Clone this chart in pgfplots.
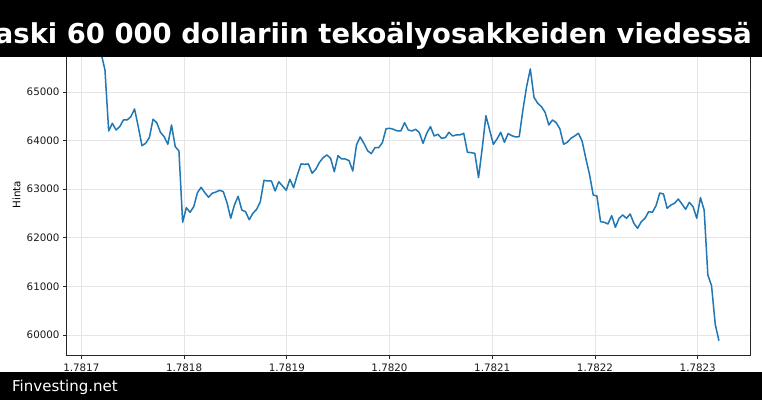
\documentclass[border=0pt]{standalone}
\usepackage{fontspec}
\setmainfont{DejaVu Sans}
\usepackage{pgfplots}
\pgfplotsset{compat=1.18}
\definecolor{mplblue}{HTML}{1F77B4}
\pgfplotstableread{
h price
-1 65890
0 65780
1 65453
2 64198
3 64356
4 64218
5 64287
6 64424
7 64424
8 64492
9 64650
10 64287
11 63895
12 63944
13 64060
14 64438
15 64368
16 64170
17 64080
18 63924
19 64321
20 63875
21 63786
22 62319
23 62620
24 62525
25 62640
26 62928
27 63039
28 62928
29 62835
30 62917
31 62942
32 62977
33 62949
34 62722
35 62401
36 62675
37 62854
38 62572
39 62537
40 62373
41 62504
42 62586
43 62743
44 63183
45 63169
46 63169
47 62963
48 63154
49 63066
50 62977
51 63204
52 63031
53 63292
54 63519
55 63512
56 63519
57 63327
58 63410
59 63553
60 63649
61 63704
62 63636
63 63360
64 63690
65 63621
66 63621
67 63587
68 63374
69 63909
70 64074
71 63944
72 63792
73 63731
74 63854
75 63854
76 63957
77 64245
78 64252
79 64232
80 64198
81 64198
82 64368
83 64218
84 64198
85 64232
86 64163
87 63944
88 64150
89 64287
90 64095
91 64130
92 64047
93 64060
94 64170
95 64095
96 64115
97 64115
98 64150
99 63759
100 63752
101 63738
102 63237
103 63841
104 64512
105 64218
106 63924
107 64033
108 64170
109 63965
110 64142
111 64101
112 64074
113 64080
114 64630
115 65110
116 65473
117 64890
118 64767
119 64698
120 64582
121 64321
122 64424
123 64368
124 64239
125 63924
126 63965
127 64047
128 64095
129 64150
130 63992
131 63636
132 63307
133 62881
134 62860
135 62331
136 62319
137 62284
138 62455
139 62216
140 62401
141 62469
142 62401
143 62490
144 62298
145 62195
146 62331
147 62401
148 62537
149 62525
150 62661
151 62922
152 62901
153 62607
154 62675
155 62710
156 62798
157 62695
158 62586
159 62730
160 62640
161 62401
162 62826
163 62572
164 61235
165 61015
166 60220
167 59883
}\pricedata
\begin{document}
\begin{tikzpicture}[x=1pt,y=1pt]
\path[use as bounding box] (0,0) rectangle (762,400);
\fill[white] (0,0) rectangle (762,400);
\begin{axis}[
  at={(66.5pt,44.7pt)}, anchor=south west,
  scale only axis, width=683.5pt, height=321.2pt,
  xmin=-9.4, xmax=175.4, ymin=59583, ymax=66190,
  xtick={-5.4,22.38,50.16,77.93,105.71,133.49,161.27},
  xticklabels={1.7817,1.7818,1.7819,1.7820,1.7821,1.7822,1.7823},
  ytick={60000,61000,62000,63000,64000,65000},
  yticklabel style={/pgf/number format/.cd, set thousands separator={}, fixed},
  xticklabel style={yshift=-1.5pt},
  /pgf/number format/assume math mode=true,
  scaled y ticks=false,
  tick label style={font=\fontsize{10.3}{12}\selectfont, text=black!90},
  xtick pos=left, ytick pos=left,
  tick align=outside, major tick length=3.5pt,
  every tick/.style={black!85, line width=0.8pt},
  grid=major, major grid style={black!10, line width=0.7pt},
  axis line style={black!85, line width=0.8pt},
  ylabel={Hinta},
  every axis y label/.style={at={(axis description cs:-0.073,0.5)}, rotate=90, anchor=center, font=\fontsize{10.3}{12}\selectfont},
]
\addplot[mplblue, line width=1.5pt, line join=round] table[x=h, y=price] {\pricedata};
\end{axis}
\fill[black] (0,343.3) rectangle (762,400);
\fill[black] (0,0) rectangle (762,28.3);
\begin{scope}
\clip (0,0) rectangle (762,400);
\node[anchor=base east, inner sep=0pt, text=white, font=\fontsize{27.4}{32}\selectfont\bfseries] at (752,356) {aski 60 000 dollariin tekoälyosakkeiden viedessä};
\node[anchor=base west, inner sep=0pt, text=white, font=\fontsize{15}{18}\selectfont] at (12,9) {Finvesting.net};
\end{scope}
\end{tikzpicture}
\end{document}
